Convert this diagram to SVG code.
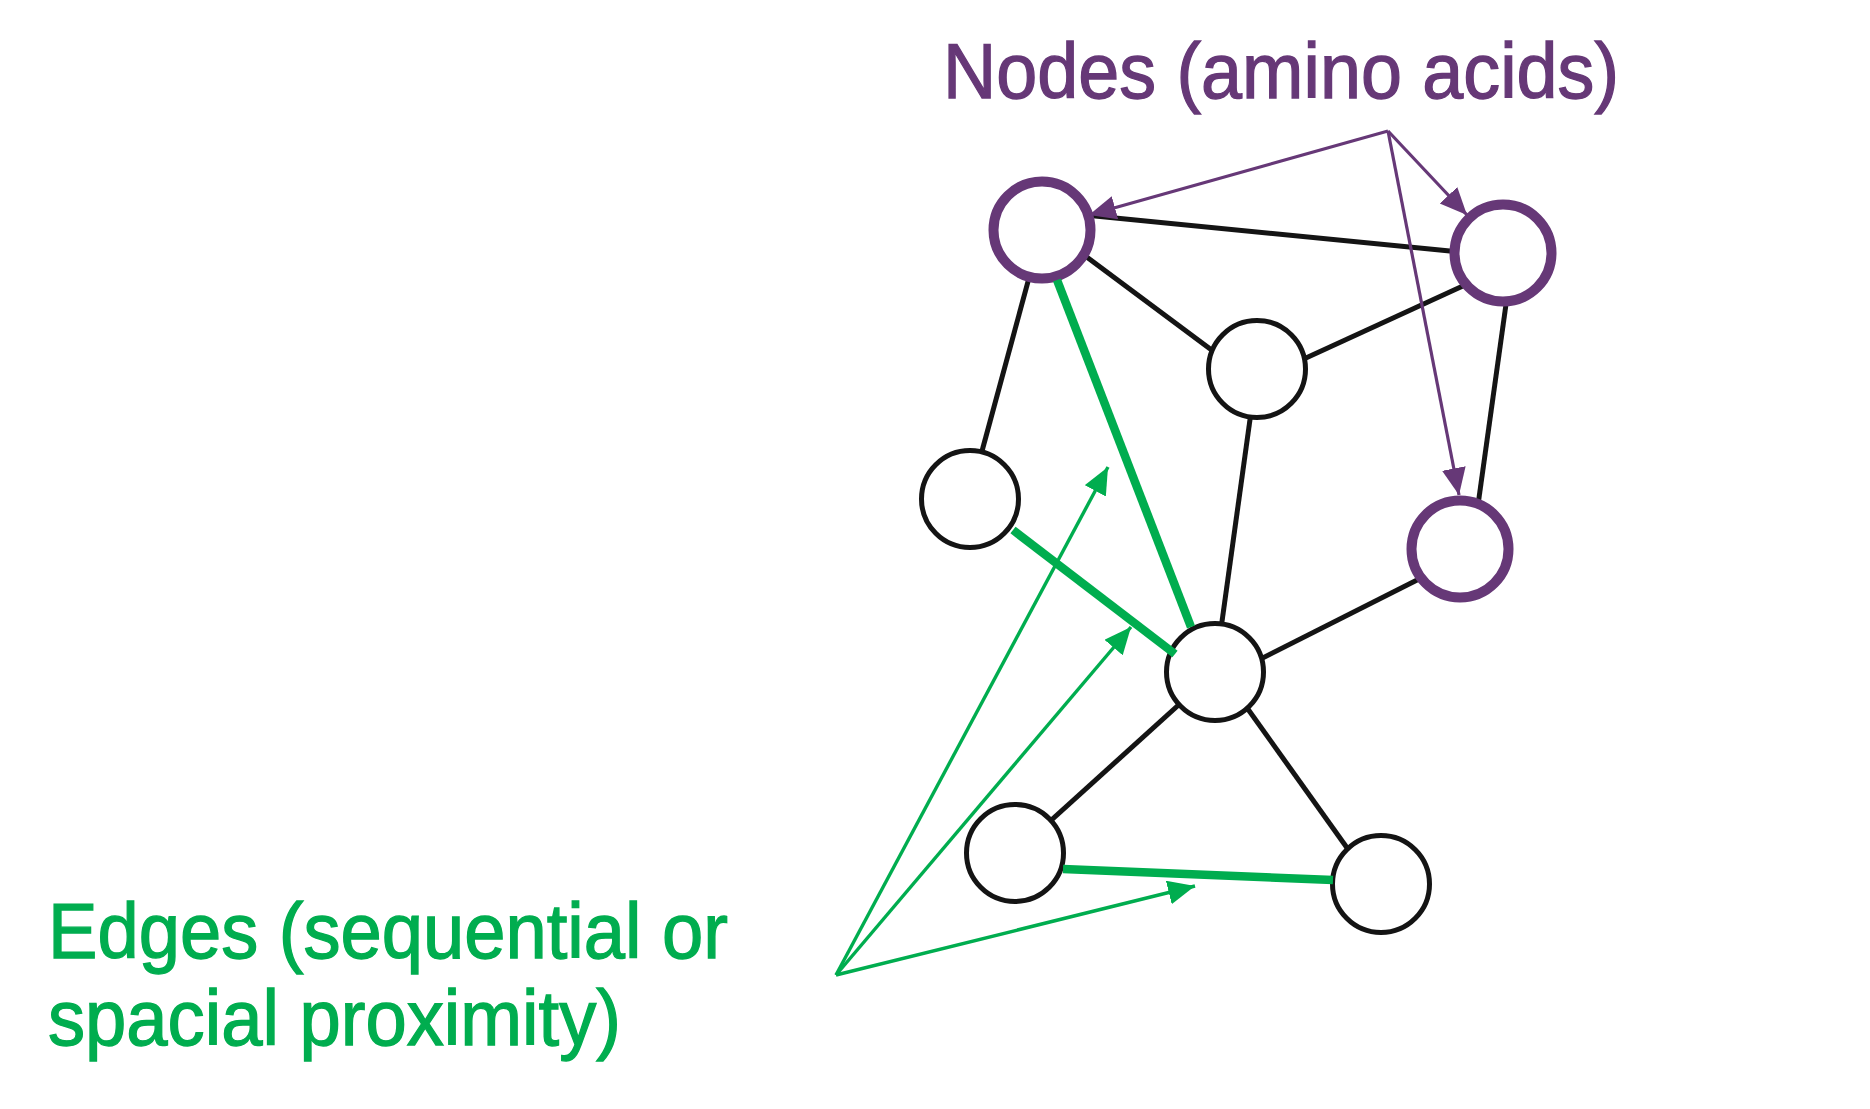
<svg xmlns="http://www.w3.org/2000/svg" width="1870" height="1109" viewBox="0 0 1870 1109">
  <style>
    .edge { stroke: #141414; stroke-width: 5; fill: none; }
    .gedge { stroke: #00AD4F; stroke-width: 8.5; fill: none; }
    .node { fill: #ffffff; stroke: #141414; stroke-width: 5; }
    .pnode { fill: #ffffff; stroke: #663877; stroke-width: 10; }
    .parrow { stroke: #663877; stroke-width: 3.2; fill: none; }
    .garrow { stroke: #00AD4F; stroke-width: 3.4; fill: none; }
    .ptext { font-family: "Liberation Sans", Arial, sans-serif; font-size: 77px; fill: #663877; stroke: #663877; stroke-width: 1.3; }
    .gtext { font-family: "Liberation Sans", Arial, sans-serif; font-size: 77px; fill: #00AD4F; stroke: #00AD4F; stroke-width: 1.3; }
  </style>
  <defs>
    <marker id="pHead" markerUnits="userSpaceOnUse" markerWidth="30" markerHeight="26" refX="27" refY="12" orient="auto">
      <path d="M0,0 L27,12 L0,24 z" fill="#663877"/>
    </marker>
    <marker id="gHead" markerUnits="userSpaceOnUse" markerWidth="30" markerHeight="26" refX="27" refY="12" orient="auto">
      <path d="M0,0 L27,12 L0,24 z" fill="#00AD4F"/>
    </marker>
  </defs>
  <rect width="1870" height="1109" fill="#ffffff"/>

  <g id="connectors">
    <line class="edge" x1="1085" y1="215" x2="1460" y2="252"/>
    <line class="edge" x1="1080" y1="252" x2="1225" y2="360"/>
    <line class="edge" x1="1042" y1="230" x2="969" y2="499"/>
    <line class="edge" x1="1295" y1="363" x2="1465" y2="285"/>
    <line class="edge" x1="1508" y1="290" x2="1478" y2="505"/>
    <line class="edge" x1="1257" y1="369" x2="1215" y2="672"/>
    <line class="edge" x1="1425" y1="576" x2="1235" y2="672"/>
    <line class="edge" x1="1215" y1="672" x2="1015" y2="853"/>
    <line class="edge" x1="1240" y1="698" x2="1350" y2="852"/>
  </g>

  <g id="node1"><circle class="pnode" cx="1042" cy="230" r="48.5"/></g>
  <g id="node2"><circle class="pnode" cx="1503" cy="253" r="48.5"/></g>
  <g id="node3"><circle class="node" cx="1257" cy="369" r="48.5"/></g>
  <g id="node4"><circle class="node" cx="970" cy="499" r="48.5"/></g>
  <g id="node5"><circle class="pnode" cx="1460" cy="549" r="48.5"/></g>
  <g id="node6"><circle class="node" cx="1215" cy="672" r="48.5"/></g>
  <g id="node7"><circle class="node" cx="1015" cy="853" r="48.5"/></g>
  <g id="node8"><circle class="node" cx="1381" cy="884" r="48.5"/></g>

  <g id="green-edges">
    <line class="gedge" x1="1057" y1="280" x2="1191" y2="627"/>
    <line class="gedge" x1="1013" y1="530" x2="1175" y2="654"/>
    <line class="gedge" x1="1063" y1="869" x2="1333" y2="880"/>
  </g>

  <g id="label-arrows">
    <line class="parrow" x1="1388" y1="131" x2="1089" y2="215" marker-end="url(#pHead)"/>
    <line class="parrow" x1="1388" y1="131" x2="1467" y2="215" marker-end="url(#pHead)"/>
    <line class="parrow" x1="1388" y1="131" x2="1459" y2="495" marker-end="url(#pHead)"/>
    <line class="garrow" x1="836" y1="975" x2="1108" y2="467" marker-end="url(#gHead)"/>
    <line class="garrow" x1="836" y1="975" x2="1131" y2="627" marker-end="url(#gHead)"/>
    <line class="garrow" x1="836" y1="975" x2="1195" y2="886" marker-end="url(#gHead)"/>
  </g>

  <g id="label-nodes">
    <text class="ptext" x="943" y="98" textLength="676" lengthAdjust="spacingAndGlyphs">Nodes (amino acids)</text>
  </g>
  <g id="label-edges">
    <text class="gtext" x="48" y="958" textLength="680" lengthAdjust="spacingAndGlyphs">Edges (sequential or</text>
    <text class="gtext" x="48" y="1045" textLength="573" lengthAdjust="spacingAndGlyphs">spacial proximity)</text>
  </g>
</svg>
